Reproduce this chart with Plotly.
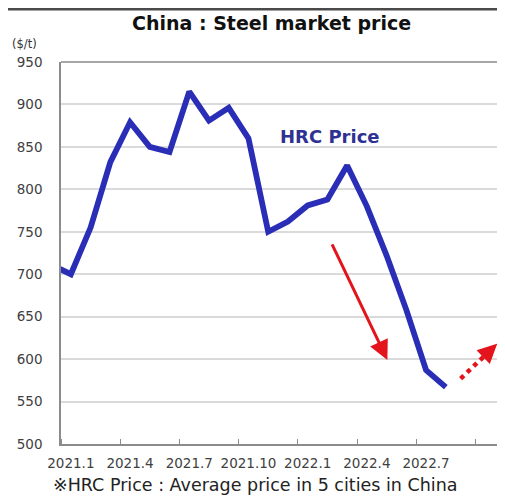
import plotly.graph_objects as go

# ---- data ----
months = ["2020.12", "2021.1", "2021.2", "2021.3", "2021.4", "2021.5", "2021.6",
          "2021.7", "2021.8", "2021.9", "2021.10", "2021.11", "2021.12",
          "2022.1", "2022.2", "2022.3", "2022.4", "2022.5", "2022.6",
          "2022.7", "2022.8"]
hrc_price = [711, 700, 755, 832, 879, 850, 844, 915, 881, 896, 860, 750, 762,
             781, 788, 828, 780, 722, 658, 587, 567]
tick_labels = ["2021.1", "2021.4", "2021.7", "2021.10", "2022.1", "2022.4", "2022.7"]
y_ticks = [500, 550, 600, 650, 700, 750, 800, 850, 900, 950]

# arrows (data coordinates: month index from 2021.1 = 0, price)
down_arrow = {"x0": 13.2, "y0": 737, "x1": 16.04, "y1": 599}
up_arrow = {"x0": 19.75, "y0": 577, "x1": 21.6, "y1": 618}

# month index (2021.1 -> 0)
x_idx = [i - months.index("2021.1") for i in range(len(months))]
tick_idx = [months.index(t) - months.index("2021.1") for t in tick_labels]

FONT = "DejaVu Sans"
BLUE = "#2A2DB5"
RED = "#E3141B"

fig = go.Figure()
fig.add_trace(go.Scatter(
    x=x_idx, y=hrc_price, mode="lines",
    line=dict(color=BLUE, width=5.8),
    hoverinfo="skip", showlegend=False,
))

# dotted part of the upward arrow
ux = up_arrow["x1"] - 0.25 * (up_arrow["x1"] - up_arrow["x0"])
uy = up_arrow["y1"] - 0.25 * (up_arrow["y1"] - up_arrow["y0"])
fig.add_trace(go.Scatter(
    x=[up_arrow["x0"], ux], y=[up_arrow["y0"], uy], mode="lines",
    line=dict(color=RED, width=4.5, dash="dot"),
    hoverinfo="skip", showlegend=False,
))

annotations = [
    dict(x=down_arrow["x1"], y=down_arrow["y1"], ax=down_arrow["x0"], ay=down_arrow["y0"],
         xref="x", yref="y", axref="x", ayref="y", text="", showarrow=True,
         arrowhead=2, arrowsize=1.3, arrowwidth=3, arrowcolor=RED),
    dict(x=up_arrow["x1"], y=up_arrow["y1"], ax=ux, ay=uy,
         xref="x", yref="y", axref="x", ayref="y", text="", showarrow=True,
         arrowhead=2, arrowsize=1.1, arrowwidth=3.5, arrowcolor=RED),
    dict(text="<b>China : Steel market price</b>", xref="paper", yref="paper",
         x=0.473, y=1.101, xanchor="center", yanchor="middle", showarrow=False,
         font=dict(family=FONT, size=19, color="#111111")),
    dict(text="($/t)", xref="paper", yref="paper", x=-0.082, y=1.047,
         xanchor="center", yanchor="middle", showarrow=False,
         font=dict(family=FONT, size=11.5, color="#333333")),
    dict(text="<b>HRC Price</b>", xref="paper", yref="paper", x=0.605, y=0.805,
         xanchor="center", yanchor="middle", showarrow=False,
         font=dict(family=FONT, size=18, color="#2E3192")),
    dict(text="※HRC Price : Average price in 5 cities in China", xref="paper", yref="paper",
         x=0.437, y=-0.107, xanchor="center", yanchor="middle", showarrow=False,
         font=dict(family=FONT, size=17.5, color="#222222")),
]

shapes = [
    # top border of plot area
    dict(type="line", xref="paper", yref="paper", x0=0, x1=1, y0=1, y1=1,
         line=dict(color="#A6A6A6", width=2)),
    # dark rule at very top of image
    dict(type="line", xref="paper", yref="paper", x0=-0.14, x1=1.02, y0=1.1387, y1=1.1387,
         line=dict(color="#4A4A4A", width=3)),
]

fig.update_layout(
    template="none",
    width=505, height=496,
    margin=dict(l=53, r=8, t=54, b=60, autoexpand=False),
    paper_bgcolor="white", plot_bgcolor="white",
    annotations=annotations, shapes=shapes,
    showlegend=False,
)
fig.update_xaxes(
    automargin=False,
    range=[-0.5, 22.0], tickmode="array", tickvals=tick_idx, ticktext=tick_labels,
    ticks="", showgrid=False, zeroline=False,
    showline=True, linecolor="#8C8C8C", linewidth=1.5,
    tickfont=dict(family=FONT, size=13.5, color="#404040"),
    ticklabelstandoff=6,
    minor=dict(tick0=-0.5, dtick=3, ticks="inside", ticklen=5, tickcolor="#8C8C8C",
               tickwidth=1, showgrid=False),
)
fig.update_yaxes(
    automargin=False,
    range=[500, 950], tickmode="array", tickvals=y_ticks,
    ticktext=[str(v) for v in y_ticks],
    ticks="", showgrid=True, gridcolor="#DADADA", gridwidth=1.5, zeroline=False,
    showline=True, linecolor="#8C8C8C", linewidth=1.5,
    tickfont=dict(family=FONT, size=13.5, color="#404040"),
    ticklabelstandoff=14,
)

fig.write_html("out.html")
